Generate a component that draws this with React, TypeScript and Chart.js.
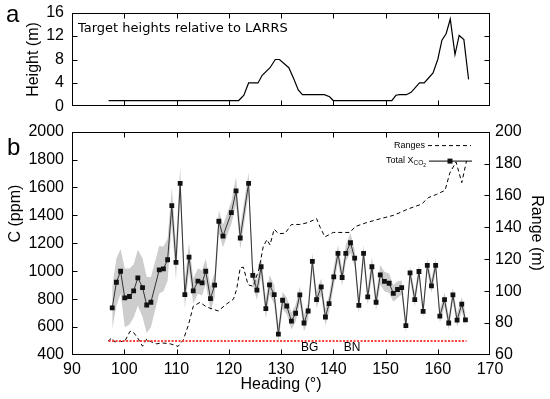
import { useEffect, useRef } from "react";
import { Chart, registerables } from "chart.js";

Chart.register(...registerables);

const FONT = "'Liberation Sans', Arial, sans-serif";

// ---------- Panel a: target heights ----------
const topHeading = [97.0, 121.9, 122.9, 123.8, 125.6, 126.4, 127.9, 128.9, 129.7, 131.5, 132.5, 133.3, 134.1, 138.3, 139.3, 140.0, 151.2, 152.0, 152.7, 154.0, 154.9, 155.7, 156.5, 157.4, 158.2, 159.1, 160.0, 160.8, 161.6, 162.4, 163.3, 164.1, 165.0, 165.9];
const topHeight = [1, 1, 1.9, 4, 4, 5.3, 6.6, 8, 8, 6.6, 4.6, 2.8, 2, 2, 1.65, 1, 1, 1.9, 2, 2, 2.4, 3.2, 4, 4, 4.8, 5.7, 8, 11.3, 12.4, 14.9, 8.85, 12.1, 11.4, 4.6];
const topTitle = "Target heights relative to LARRS";

// ---------- Panel b: CO2 and ranges ----------
const co2Heading = [97.7, 98.5, 99.3, 100.1, 101.0, 101.8, 102.6, 103.5, 104.3, 105.1, 106.7, 107.5, 108.3, 109.1, 109.9, 110.7, 111.6, 112.4, 113.2, 114.1, 114.9, 115.6, 116.5, 117.3, 118.1, 118.9, 120.5, 121.4, 122.2, 123.8, 124.6, 125.4, 126.2, 127.1, 127.8, 128.7, 129.5, 130.3, 131.1, 132.0, 132.8, 133.6, 134.4, 135.2, 136.0, 136.8, 137.7, 138.5, 139.2, 140.1, 140.9, 141.7, 142.4, 143.3, 144.1, 144.9, 145.8, 146.6, 147.4, 148.2, 149.0, 149.8, 150.7, 151.5, 152.3, 153.1, 153.9, 154.7, 155.6, 156.4, 157.2, 158.0, 158.8, 159.6, 160.4, 161.3, 162.1, 162.9, 163.7, 164.6, 165.3];
const co2Value = [737, 921, 1000, 809, 819, 859, 953, 883, 758, 778, 1010, 1017, 1082, 1470, 1063, 1629, 833, 1101, 859, 929, 917, 1000, 804, 900, 1358, 1252, 1420, 1576, 1238, 1629, 970, 864, 1032, 732, 902, 833, 550, 792, 751, 643, 699, 830, 629, 715, 1070, 797, 888, 672, 768, 960, 1128, 955, 1128, 1204, 1094, 756, 1128, 816, 1032, 778, 974, 927, 914, 842, 869, 883, 610, 988, 797, 998, 713, 1042, 895, 1042, 679, 797, 629, 830, 650, 765, 652];
const co2Err = [150, 170, 160, 210, 200, 190, 200, 210, 200, 180, 170, 160, 150, 130, 130, 120, 100, 100, 90, 90, 90, 90, 90, 90, 80, 80, 80, 100, 80, 80, 70, 70, 70, 70, 70, 70, 60, 60, 60, 60, 60, 60, 60, 60, 60, 60, 60, 60, 60, 70, 60, 60, 60, 70, 60, 60, 60, 60, 70, 60, 70, 70, 70, 60, 60, 50, 50, 50, 50, 50, 50, 50, 50, 50, 50, 50, 50, 50, 50, 50, 50];

const rangeHeading = [96.9, 97.6, 98.2, 100.1, 101.1, 101.7, 102.7, 103.5, 104.3, 104.9, 106.2, 107.2, 108.8, 110.3, 111.3, 112.3, 113.2, 114.5, 115.8, 118.0, 119.6, 120.9, 121.5, 122.2, 122.8, 123.7, 124.7, 125.8, 126.6, 127.3, 127.9, 128.7, 129.5, 130.8, 132.0, 133.6, 135.2, 136.8, 137.5, 138.4, 140.0, 143.2, 144.2, 146.4, 148.9, 151.5, 152.8, 154.3, 156.9, 158.2, 159.8, 161.4, 162.3, 163.5, 164.6, 165.5];
const rangeValue = [68.6, 70.7, 68.2, 68.6, 74.8, 74.5, 70, 65.5, 70, 68.6, 67, 67.6, 67, 65.4, 69.5, 79, 90.5, 93, 90, 87.6, 92, 95, 101, 114.7, 115, 104, 103, 114, 128, 132.3, 129, 138.9, 136, 136.3, 141.8, 141.8, 143, 145.5, 140, 134, 136.8, 136.8, 140.5, 143, 145.3, 147.5, 149.3, 151.5, 154.5, 158.6, 160.7, 163.2, 174, 181, 168, 181.6];

const bgLevel = 500;
const bgHeading = [97.0, 165.5];
const zoneLabels = ["BG", "BN"];
const zoneHeading = [135.5, 143.6];

function drawFrame(chart: any, mirrorLeft: boolean, rightId?: string) {
  const ctx: CanvasRenderingContext2D = chart.ctx;
  const a = chart.chartArea;
  const xs = chart.scales.x;
  const ys = chart.scales.y;
  const L = 5;
  const l = Math.round(a.left) + 0.5;
  const r = Math.round(a.right) - 0.5;
  const t = Math.round(a.top) + 0.5;
  const b = Math.round(a.bottom) - 0.5;
  ctx.save();
  ctx.strokeStyle = "#000000";
  ctx.lineWidth = 1;
  ctx.setLineDash([]);
  ctx.strokeRect(l, t, r - l, b - t);
  ctx.beginPath();
  for (const tk of xs.ticks) {
    const v = tk.value;
    if (v <= xs.min || v >= xs.max) continue;
    const p = Math.round(xs.getPixelForValue(v)) + 0.5;
    ctx.moveTo(p, b); ctx.lineTo(p, b - L);
    ctx.moveTo(p, t); ctx.lineTo(p, t + L);
  }
  for (const tk of ys.ticks) {
    const v = tk.value;
    if (v <= ys.min || v >= ys.max) continue;
    const p = Math.round(ys.getPixelForValue(v)) + 0.5;
    ctx.moveTo(l, p); ctx.lineTo(l + L, p);
    if (mirrorLeft) { ctx.moveTo(r, p); ctx.lineTo(r - L, p); }
  }
  if (rightId) {
    const rs = chart.scales[rightId];
    for (const tk of rs.ticks) {
      const v = tk.value;
      if (v <= rs.min || v >= rs.max) continue;
      const p = Math.round(rs.getPixelForValue(v)) + 0.5;
      ctx.moveTo(r, p); ctx.lineTo(r - L, p);
    }
  }
  ctx.stroke();
  ctx.restore();
}

const topDecor = {
  id: "topDecor",
  afterDraw(chart: any) {
    drawFrame(chart, true);
    const ctx = chart.ctx;
    ctx.save();
    ctx.fillStyle = "#000";
    ctx.textAlign = "left";
    ctx.textBaseline = "alphabetic";
    ctx.font = `24px ${FONT}`;
    ctx.fillText("a", 6, 27);
    ctx.font = `13px 'DejaVu Sans', sans-serif`;
    ctx.fillText(topTitle, 78, 36.5);
    ctx.restore();
  },
};

const bottomDecor = {
  id: "bottomDecor",
  afterDraw(chart: any) {
    drawFrame(chart, false, "y2");
    const { ctx, chartArea: a, scales } = chart;
    ctx.save();
    ctx.fillStyle = "#000";
    ctx.strokeStyle = "#000";
    ctx.textAlign = "left";
    ctx.textBaseline = "alphabetic";
    ctx.font = `24px ${FONT}`;
    ctx.fillText("b", 7, a.top + 23);

    ctx.font = `16px ${FONT}`;
    ctx.textAlign = "center";
    ctx.textBaseline = "middle";
    ctx.save();
    ctx.translate(16, a.top + 82);
    ctx.rotate(-Math.PI / 2);
    ctx.fillText("C (ppm)", 0, 0);
    ctx.restore();
    ctx.save();
    ctx.translate(a.right + 46, a.top + 101.5);
    ctx.rotate(Math.PI / 2);
    ctx.fillText("Range (m)", 0, 0);
    ctx.restore();

    ctx.font = `12px ${FONT}`;
    zoneLabels.forEach((s, i) => {
      ctx.fillText(s, scales.x.getPixelForValue(zoneHeading[i]), a.bottom - 7);
    });

    ctx.font = `9px ${FONT}`;
    ctx.textAlign = "right";
    const ly1 = a.top + 13.5;
    ctx.fillText("Ranges", a.right - 65, ly1);
    ctx.lineWidth = 1;
    ctx.setLineDash([4, 3]);
    ctx.beginPath();
    ctx.moveTo(a.right - 62, ly1 + 0.5);
    ctx.lineTo(a.right - 19, ly1 + 0.5);
    ctx.stroke();
    ctx.setLineDash([]);

    const ly2 = a.top + 29;
    ctx.textAlign = "left";
    ctx.font = `9px ${FONT}`;
    const w1 = ctx.measureText("Total X").width;
    ctx.font = `6.5px ${FONT}`;
    const w2 = ctx.measureText("CO").width;
    ctx.font = `5px ${FONT}`;
    const w3 = ctx.measureText("2").width;
    const x0 = a.right - 64 - (w1 + w2 + w3);
    ctx.font = `9px ${FONT}`;
    ctx.fillText("Total X", x0, ly2);
    ctx.font = `6.5px ${FONT}`;
    ctx.fillText("CO", x0 + w1, ly2 + 3);
    ctx.font = `5px ${FONT}`;
    ctx.fillText("2", x0 + w1 + w2, ly2 + 5);
    ctx.beginPath();
    ctx.moveTo(a.right - 61, ly2 + 0.5);
    ctx.lineTo(a.right - 18, ly2 + 0.5);
    ctx.stroke();
    ctx.fillStyle = "#111";
    ctx.fillRect(a.right - 42.5, ly2 - 2, 5, 5);
    ctx.restore();
  },
};

const plainTick = (v: any) => String(v);

export default function App() {
  const topRef = useRef<HTMLCanvasElement>(null);
  const botRef = useRef<HTMLCanvasElement>(null);

  useEffect(() => {
    const tickFont = { family: FONT, size: 16 };
    const noGrid = { display: false, drawTicks: false, tickLength: 0 };
    const noBorder = { display: false };

    const topChart = new Chart(topRef.current as HTMLCanvasElement, {
      type: "line",
      data: {
        datasets: [
          {
            data: topHeading.map((h, i) => ({ x: h, y: topHeight[i] })),
            borderColor: "#000",
            borderWidth: 1.2,
            pointRadius: 0,
            fill: false,
            tension: 0,
          },
        ],
      },
      options: {
        responsive: false,
        animation: false,
        layout: { padding: { top: 0, right: 60, left: 0, bottom: 0 } },
        plugins: { legend: { display: false }, tooltip: { enabled: false } },
        scales: {
          x: {
            type: "linear",
            min: 90,
            max: 170,
            ticks: { display: false, stepSize: 10 },
            grid: noGrid,
            border: noBorder,
            afterFit: (s: any) => { s.height = 14; },
          },
          y: {
            type: "linear",
            min: 0,
            max: 16,
            ticks: { stepSize: 4, font: tickFont, color: "#000", padding: 8, callback: plainTick },
            grid: noGrid,
            border: noBorder,
            title: {
              display: true,
              text: "Height (m)",
              font: { family: FONT, size: 16 },
              color: "#000",
              padding: { top: 24, bottom: 0 },
            },
            afterFit: (s: any) => { s.width = 72; },
          },
        },
      } as any,
      plugins: [topDecor],
    });

    const co2Points = co2Heading.map((h, i) => ({ x: h, y: co2Value[i] }));
    const upper = co2Heading.map((h, i) => ({ x: h, y: co2Value[i] + co2Err[i] }));
    const lower = co2Heading.map((h, i) => ({ x: h, y: co2Value[i] - co2Err[i] }));

    const botChart = new Chart(botRef.current as HTMLCanvasElement, {
      type: "line",
      data: {
        datasets: [
          {
            label: "Total XCO2",
            data: co2Points,
            yAxisID: "y",
            borderColor: "#333",
            borderWidth: 1,
            pointStyle: "rect",
            pointRadius: 3.4,
            pointBackgroundColor: "#111",
            pointBorderWidth: 0,
            fill: false,
            tension: 0,
          },
          {
            label: "Background",
            data: bgHeading.map((h) => ({ x: h, y: bgLevel })),
            yAxisID: "y",
            borderColor: "rgb(255,60,60)",
            borderWidth: 2,
            borderDash: [2, 1.5],
            pointRadius: 0,
            fill: false,
          },
          {
            label: "Ranges",
            data: rangeHeading.map((h, i) => ({ x: h, y: rangeValue[i] })),
            yAxisID: "y2",
            borderColor: "#000",
            borderWidth: 1,
            borderDash: [4, 3],
            pointRadius: 0,
            fill: false,
            tension: 0,
          },
          {
            label: "upper",
            data: upper,
            yAxisID: "y",
            borderWidth: 0,
            borderColor: "rgba(0,0,0,0)",
            pointRadius: 0,
            fill: false,
          },
          {
            label: "lower",
            data: lower,
            yAxisID: "y",
            borderWidth: 0,
            borderColor: "rgba(0,0,0,0)",
            backgroundColor: "#cdcdcd",
            pointRadius: 0,
            fill: "-1",
          },
        ],
      },
      options: {
        responsive: false,
        animation: false,
        layout: { padding: { top: 0, right: 0, left: 0, bottom: 0 } },
        plugins: { legend: { display: false }, tooltip: { enabled: false } },
        scales: {
          x: {
            type: "linear",
            min: 90,
            max: 170,
            ticks: { stepSize: 10, font: tickFont, color: "#000", padding: 5, autoSkip: false, maxRotation: 0, callback: plainTick },
            grid: noGrid,
            border: noBorder,
            title: {
              display: true,
              text: "Heading (°)",
              font: { family: FONT, size: 16 },
              color: "#000",
              padding: { top: 0, bottom: 5 },
            },
            afterFit: (s: any) => { s.height = 44; },
          },
          y: {
            type: "linear",
            position: "left",
            min: 400,
            max: 2000,
            ticks: { stepSize: 200, font: tickFont, color: "#000", padding: 8, callback: plainTick },
            grid: noGrid,
            border: noBorder,
            afterFit: (s: any) => { s.width = 72; },
          },
          y2: {
            type: "linear",
            position: "right",
            min: 60,
            max: 200,
            ticks: { stepSize: 20, font: tickFont, color: "#000", padding: 5, callback: plainTick },
            grid: noGrid,
            border: noBorder,
            afterFit: (s: any) => { s.width = 60; },
          },
        },
      } as any,
      plugins: [bottomDecor],
    });

    return () => {
      topChart.destroy();
      botChart.destroy();
    };
  }, []);

  return (
    <div style={{ position: "fixed", left: 0, top: 0, width: 550, height: 399, background: "#fff", overflow: "hidden" }}>
      <canvas ref={topRef} width={550} height={129} style={{ position: "absolute", left: 0, top: -5 }} />
      <canvas ref={botRef} width={550} height={285} style={{ position: "absolute", left: 0, top: 114 }} />
    </div>
  );
}
